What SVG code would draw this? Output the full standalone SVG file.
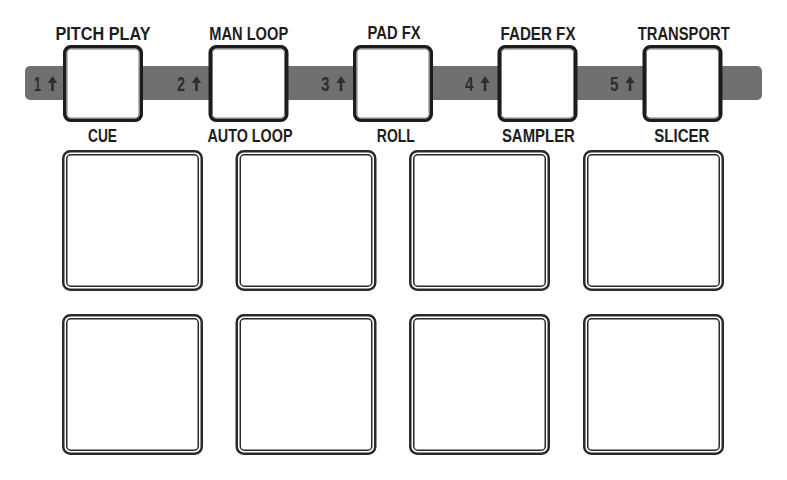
<svg xmlns="http://www.w3.org/2000/svg" width="787" height="480" viewBox="0 0 787 480">
<style>
.lbl{font-family:"Liberation Sans Narrow","Liberation Sans",Arial,sans-serif;font-weight:bold;font-size:18.5px;fill:#1e1e1e;text-anchor:middle}
.num{font-family:"Liberation Sans Narrow","Liberation Sans",Arial,sans-serif;font-weight:bold;font-size:20px;fill:#2e2e2e;text-anchor:end}
.arw{fill:#2e2e2e}
.bo{fill:#fff;stroke:#1c1c1c;stroke-width:3.5}
.bi{fill:none;stroke:#7a7a7a;stroke-width:1}
.po{fill:#fff;stroke:#2a2a2a;stroke-width:2.5}
.pi{fill:none;stroke:#2a2a2a;stroke-width:1.5}
</style>
<defs>
<g id="btn"><rect class="bo" x="1.75" y="1.75" width="76.5" height="73.5" rx="6"/><rect class="bi" x="4" y="4" width="72" height="69" rx="3.5"/></g>
<g id="pad"><rect class="po" x="1.25" y="1.25" width="138.5" height="138.5" rx="7"/><rect class="pi" x="4.75" y="4.75" width="131.5" height="131.5" rx="4"/></g>
<path id="up" d="M0,0 L4.7,7 L1.3,7 L1.3,15 L-1.3,15 L-1.3,7 L-4.7,7 Z"/>
</defs>
<rect id="bar" x="25" y="66" width="737" height="34" rx="5" fill="#707070"/>
<g id="connectors"/>
<g id="shift1"><text class="num" x="41" y="90.5" textLength="7" lengthAdjust="spacingAndGlyphs">1</text><use href="#up" class="arw" x="52.5" y="76"/></g>
<g id="shift2"><text class="num" x="185" y="90.5" textLength="8" lengthAdjust="spacingAndGlyphs">2</text><use href="#up" class="arw" x="196.5" y="76"/></g>
<g id="shift3"><text class="num" x="329.5" y="90.5" textLength="8.5" lengthAdjust="spacingAndGlyphs">3</text><use href="#up" class="arw" x="341" y="76"/></g>
<g id="shift4"><text class="num" x="473.5" y="90.5" textLength="8.5" lengthAdjust="spacingAndGlyphs">4</text><use href="#up" class="arw" x="485" y="76"/></g>
<g id="shift5"><text class="num" x="618.5" y="90.5" textLength="8.5" lengthAdjust="spacingAndGlyphs">5</text><use href="#up" class="arw" x="630" y="76"/></g>
<g id="btn1"><use href="#btn" x="63" y="45"/><text class="lbl" x="103" y="39.5" textLength="95" lengthAdjust="spacingAndGlyphs">PITCH PLAY</text><text class="lbl" x="102.5" y="141.5" textLength="29" lengthAdjust="spacingAndGlyphs">CUE</text></g>
<g id="btn2"><use href="#btn" x="208.5" y="45"/><text class="lbl" x="248.7" y="39.5" textLength="79" lengthAdjust="spacingAndGlyphs">MAN LOOP</text><text class="lbl" x="250" y="141.5" textLength="85" lengthAdjust="spacingAndGlyphs">AUTO LOOP</text></g>
<g id="btn3"><use href="#btn" x="353" y="45"/><text class="lbl" x="394" y="39" textLength="53" lengthAdjust="spacingAndGlyphs">PAD FX</text><text class="lbl" x="395.8" y="141.5" textLength="38" lengthAdjust="spacingAndGlyphs">ROLL</text></g>
<g id="btn4"><use href="#btn" x="497.5" y="45"/><text class="lbl" x="538" y="39.5" textLength="75" lengthAdjust="spacingAndGlyphs">FADER FX</text><text class="lbl" x="538.4" y="141.5" textLength="73" lengthAdjust="spacingAndGlyphs">SAMPLER</text></g>
<g id="btn5"><use href="#btn" x="642.5" y="45"/><text class="lbl" x="683.7" y="39.5" textLength="92" lengthAdjust="spacingAndGlyphs">TRANSPORT</text><text class="lbl" x="681.8" y="141.5" textLength="55" lengthAdjust="spacingAndGlyphs">SLICER</text></g>
<g id="pad1"><use href="#pad" x="62" y="150"/></g>
<g id="pad2"><use href="#pad" x="235.5" y="150"/></g>
<g id="pad3"><use href="#pad" x="409" y="150"/></g>
<g id="pad4"><use href="#pad" x="583" y="150"/></g>
<g id="pad5"><use href="#pad" x="62" y="314"/></g>
<g id="pad6"><use href="#pad" x="235.5" y="314"/></g>
<g id="pad7"><use href="#pad" x="409" y="314"/></g>
<g id="pad8"><use href="#pad" x="583" y="314"/></g>
</svg>
